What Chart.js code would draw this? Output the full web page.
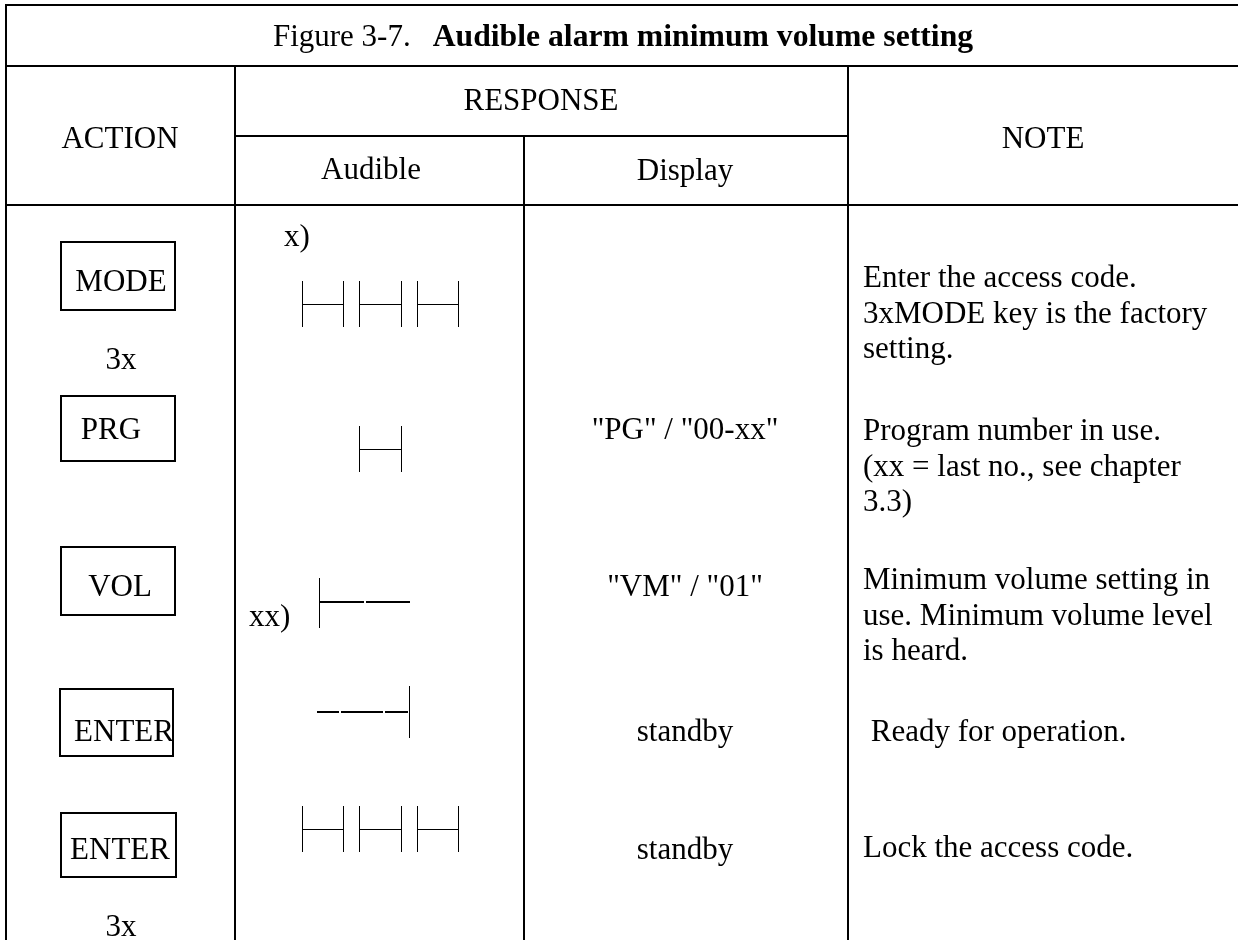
<!DOCTYPE html>
<html>
<head>
<meta charset="utf-8">
<title>Figure 3-7. Audible alarm minimum volume setting</title>
<script src="https://cdn.jsdelivr.net/npm/chart.js@4.4.1/dist/chart.umd.min.js"></script>
<style>
    html, body { margin: 0; padding: 0; background: #fff; }
    #wrap { width: 1238px; height: 940px; }
</style>
</head>
<body>
<div id="wrap"><canvas id="figureChart"></canvas></div>
<script>
// Table content
const figureNumber = "Figure 3-7.";
const figureTitle = "Audible alarm minimum volume setting";
const headerLabels = ["ACTION", "RESPONSE", "Audible", "Display", "NOTE"];
const actionKeys = ["MODE", "PRG", "VOL", "ENTER", "ENTER"];
const actionRepeats = ["3x", "", "", "", "3x"];
const audibleSignals = ["beep x3", "beep", "tone on", "tone off", "beep x3"];
const audibleMarks = ["x)", "", "xx)", "", ""];
const displayTexts = ["", "\"PG\" / \"00-xx\"", "\"VM\" / \"01\"", "standby", "standby"];
const noteLines = [
    ["Enter the access code.", "3xMODE key is the factory", "setting."],
    ["Program number in use.", "(xx = last no., see chapter", "3.3)"],
    ["Minimum volume setting in", "use. Minimum volume level", "is heard."],
    [" Ready for operation."],
    ["Lock the access code."]
];

// Layout of the page (pixels of the 1238 x 940 figure)
const grid = { left: 6, top: 5, right: 1238, bottom: 940, titleLine: 66, subLine: 136, headLine: 205,
               colAction: 235, colDisplay: 524, colNote: 848 };
const headerPos = [[120, 140], [541, 102], [371, 171], [685, 172], [1043, 140]];
const rowLayout = [
    { box: [61, 242, 175, 310], keyX: 121, keyY: 283, repeatY: 361, pulseY: 304, markX: 284, markY: 238, noteY: 279 },
    { box: [61, 396, 175, 461], keyX: 111, keyY: 431, pulseY: 449, noteY: 432 },
    { box: [61, 547, 175, 615], keyX: 120, keyY: 588, pulseY: 602, markX: 249, markY: 618, noteY: 581 },
    { box: [60, 689, 173, 756], keyX: 124, keyY: 733, pulseY: 712, noteY: 733 },
    { box: [61, 813, 176, 877], keyX: 120, keyY: 851, repeatY: 928, pulseY: 829, noteY: 849 }
];
const beepSlots = [[302, 343], [359, 401], [417, 458]];
const displayX = 685;
const noteX = 863;
const noteLineHeight = 35.5;
const textFont = '31px "Liberation Serif", "Times New Roman", serif';
const boldFont = 'bold 31.7px "Liberation Serif", "Times New Roman", serif';

const tablePlugin = {
    id: "tableFigure",
    afterDraw(chart) {
        const ctx = chart.ctx;
        const X = v => chart.scales.x.getPixelForValue(v);
        const Y = v => chart.scales.y.getPixelForValue(v);

        // crisp line helper
        function line(x1, y1, x2, y2, w) {
            const off = (w % 2) ? 0.5 : 0;
            ctx.beginPath();
            ctx.lineWidth = w;
            if (x1 === x2) {
                ctx.moveTo(Math.round(X(x1)) + off, Y(y1));
                ctx.lineTo(Math.round(X(x2)) + off, Y(y2));
            } else {
                ctx.moveTo(X(x1), Math.round(Y(y1)) + off);
                ctx.lineTo(X(x2), Math.round(Y(y2)) + off);
            }
            ctx.stroke();
        }
        function text(str, x, y, align, font) {
            ctx.font = font || textFont;
            ctx.textAlign = align || "center";
            ctx.textBaseline = "middle";
            ctx.fillText(str, X(x), Y(y));
        }

        ctx.save();
        ctx.strokeStyle = "#000";
        ctx.fillStyle = "#000";
        ctx.lineCap = "butt";

        // Outer frame and header rules
        line(grid.left - 1, grid.top, grid.right, grid.top, 2);
        line(grid.left, grid.top, grid.left, grid.bottom, 2);
        line(grid.left, grid.titleLine, grid.right, grid.titleLine, 2);
        line(grid.colAction, grid.subLine, grid.colNote, grid.subLine, 2);
        line(grid.left, grid.headLine, grid.right, grid.headLine, 2);
        line(grid.colAction, grid.titleLine, grid.colAction, grid.bottom, 2);
        line(grid.colDisplay, grid.subLine, grid.colDisplay, grid.bottom, 2);
        line(grid.colNote, grid.titleLine, grid.colNote, grid.bottom, 2);

        // Title: regular number + bold caption, centred as one piece
        ctx.font = textFont;
        const numW = ctx.measureText(figureNumber).width;
        ctx.font = boldFont;
        const capW = ctx.measureText(figureTitle).width;
        const gap = 22;
        const startX = 623 - (numW + gap + capW) / 2;
        text(figureNumber, startX, 38, "left", textFont);
        text(figureTitle, startX + numW + gap, 38, "left", boldFont);

        // Column headers
        headerLabels.forEach((lbl, i) => text(lbl, headerPos[i][0], headerPos[i][1]));

        // Rows
        actionKeys.forEach((key, i) => {
            const r = rowLayout[i];
            const [bx1, by1, bx2, by2] = r.box;
            line(bx1, by1 - 1, bx1, by2 + 1, 2);
            line(bx2, by1 - 1, bx2, by2 + 1, 2);
            line(bx1, by1, bx2, by1, 2);
            line(bx1, by2, bx2, by2, 2);
            text(key, r.keyX, r.keyY);
            if (actionRepeats[i]) text(actionRepeats[i], 121, r.repeatY);
            if (audibleMarks[i]) text(audibleMarks[i], r.markX, r.markY, "left");
            if (displayTexts[i]) text(displayTexts[i], displayX, r.keyY);
            noteLines[i].forEach((s, j) => text(s, noteX, r.noteY + j * noteLineHeight, "left"));
            drawSignal(audibleSignals[i], r.pulseY);
        });

        function drawSignal(kind, cy) {
            if (kind === "beep x3" || kind === "beep") {
                const slots = kind === "beep" ? [beepSlots[1]] : beepSlots;
                slots.forEach(([a, b]) => {
                    line(a, cy - 23, a, cy + 23, 1);
                    line(b, cy - 23, b, cy + 23, 1);
                    line(a, cy, b, cy, 1);
                });
            } else if (kind === "tone on") {
                line(319, cy - 24, 319, cy + 26, 1);
                line(319, cy, 364, cy, 2);
                line(366, cy, 410, cy, 2);
            } else if (kind === "tone off") {
                line(317, cy, 339, cy, 2);
                line(341, cy, 383, cy, 2);
                line(385, cy, 408, cy, 2);
                line(409, cy - 26, 409, cy + 26, 1);
            }
        }
        ctx.restore();
    }
};

new Chart(document.getElementById("figureChart"), {
    type: "scatter",
    data: { datasets: [{ data: [], pointRadius: 0 }] },
    options: {
        responsive: true,
        maintainAspectRatio: false,
        animation: false,
        layout: { padding: 0 },
        scales: {
            x: { type: "linear", min: 0, max: 1238, display: false },
            y: { type: "linear", min: 0, max: 940, reverse: true, display: false }
        },
        plugins: { legend: { display: false }, tooltip: { enabled: false }, title: { display: false } }
    },
    plugins: [tablePlugin]
});
</script>
</body>
</html>
